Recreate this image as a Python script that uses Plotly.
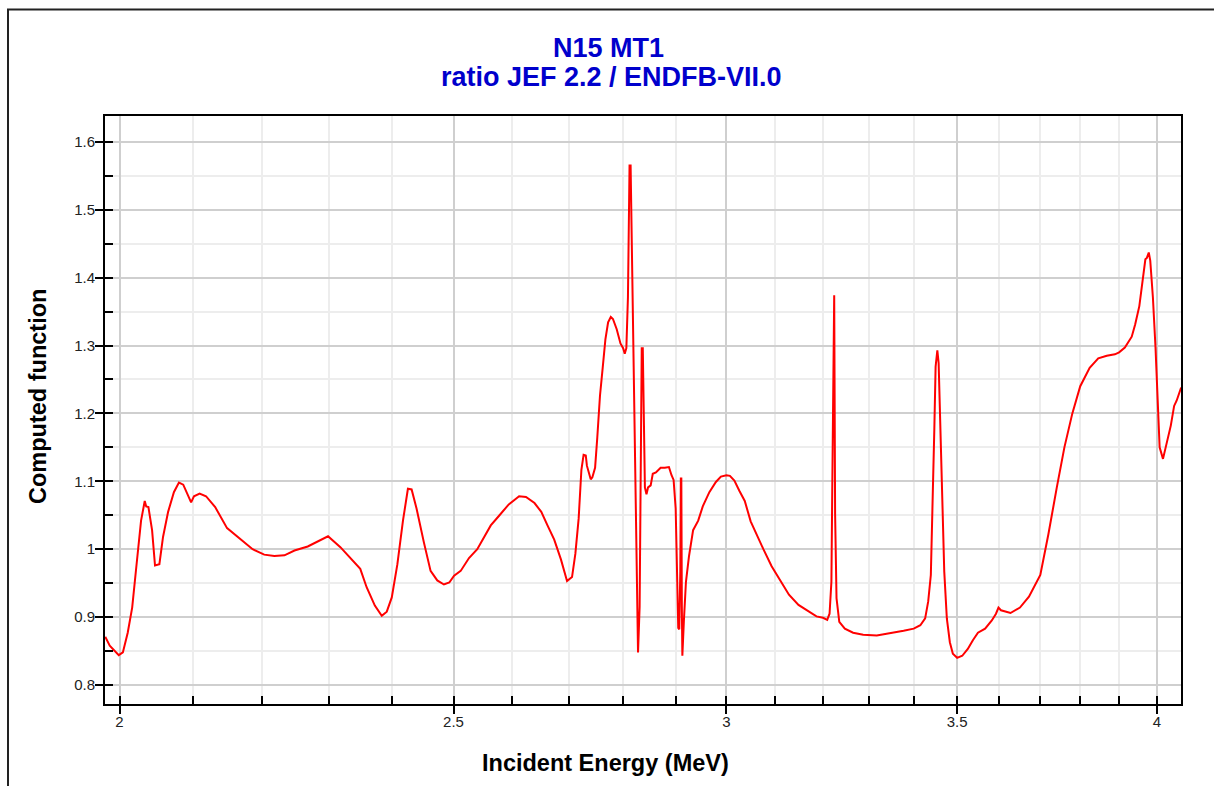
import plotly.graph_objects as go

# ---- data (incident energy in MeV, ratio JEF 2.2 / ENDFB-VII.0) ----
energy = [
    1.981, 1.987, 1.999, 2.0045, 2.011, 2.017, 2.0225, 2.029, 2.034, 2.036, 2.039, 2.044,
    2.048, 2.054, 2.059, 2.066, 2.074, 2.081, 2.087, 2.093, 2.098, 2.102, 2.110, 2.119,
    2.132, 2.149, 2.169, 2.186, 2.203, 2.218, 2.233, 2.248, 2.268, 2.283, 2.299, 2.318,
    2.349, 2.359, 2.372, 2.383, 2.391, 2.399, 2.408, 2.417, 2.425, 2.431, 2.439, 2.451,
    2.462, 2.473, 2.484, 2.493, 2.501, 2.512, 2.526, 2.540, 2.563,
    2.578, 2.594, 2.612, 2.624, 2.639, 2.651, 2.662, 2.674, 2.686, 2.697, 2.706, 2.712,
    2.718, 2.723, 2.727, 2.731, 2.733, 2.740, 2.743, 2.748, 2.752, 2.757, 2.762, 2.767,
    2.772, 2.777, 2.781, 2.788, 2.795, 2.800, 2.803, 2.806, 2.809, 2.811, 2.812, 2.814,
    2.828, 2.831, 2.833, 2.835, 2.837, 2.839, 2.841, 2.844, 2.847, 2.852, 2.856, 2.862,
    2.871, 2.879, 2.887, 2.892, 2.896, 2.900, 2.903, 2.905, 2.907, 2.909, 2.910, 2.911,
    2.912, 2.913, 2.916, 2.920, 2.926, 2.934, 2.944, 2.953, 2.966, 2.979, 2.989, 3.000,
    3.007, 3.016, 3.026, 3.037, 3.049, 3.061, 3.075, 3.092, 3.110,
    3.128, 3.148, 3.169, 3.186, 3.200, 3.209, 3.214, 3.218, 3.220, 3.222, 3.223, 3.224,
    3.226, 3.229, 3.235, 3.247, 3.265, 3.287, 3.317, 3.347, 3.377, 3.400, 3.415, 3.426,
    3.433, 3.439, 3.443, 3.447, 3.450, 3.454, 3.457, 3.461, 3.465, 3.470, 3.476, 3.483,
    3.490, 3.500, 3.512, 3.525, 3.537, 3.549, 3.566, 3.582, 3.592, 3.598, 3.604, 3.627,
    3.650, 3.672, 3.700, 3.720, 3.741, 3.760, 3.780, 3.800, 3.824, 3.846, 3.868, 3.889,
    3.900, 3.915, 3.933, 3.942, 3.953, 3.962, 3.969, 3.973, 3.978, 3.982, 3.989, 3.996,
    4.002, 4.007, 4.016, 4.028, 4.037, 4.046, 4.053, 4.065,
]
ratio = [
    0.871, 0.858, 0.844, 0.848, 0.877, 0.914, 0.973, 1.042, 1.071, 1.063, 1.062, 1.028,
    0.976, 0.978, 1.018, 1.055, 1.084, 1.098, 1.095, 1.082, 1.069, 1.078, 1.082, 1.078,
    1.062, 1.031, 1.014, 1.000, 0.992, 0.990, 0.991, 0.998, 1.004, 1.011, 1.019, 1.003,
    0.971, 0.944, 0.917, 0.902, 0.908, 0.929, 0.978, 1.042, 1.089, 1.088, 1.060, 1.010,
    0.968, 0.954, 0.948, 0.951, 0.961, 0.968, 0.987, 1.000, 1.035,
    1.050, 1.066, 1.078, 1.077, 1.068, 1.055, 1.035, 1.014, 0.985, 0.953, 0.959, 0.993,
    1.045, 1.117, 1.139, 1.138, 1.123, 1.103, 1.106, 1.120, 1.164, 1.226, 1.267, 1.309,
    1.334, 1.342, 1.339, 1.324, 1.303, 1.296, 1.288, 1.296, 1.371, 1.484, 1.565, 1.565,
    0.848, 0.915, 1.122, 1.296, 1.296, 1.174, 1.091, 1.081, 1.091, 1.094, 1.111, 1.113,
    1.120, 1.120, 1.121, 1.109, 1.102, 1.060, 0.967, 0.884, 0.882, 0.967, 1.104, 1.104,
    0.915, 0.843, 0.895, 0.952, 0.990, 1.028, 1.042, 1.063, 1.084, 1.099, 1.107, 1.109,
    1.108, 1.101, 1.086, 1.071, 1.041, 1.021, 1.000, 0.975, 0.954,
    0.933, 0.918, 0.908, 0.901, 0.899, 0.896, 0.905, 0.952, 1.101, 1.250, 1.374, 1.374,
    1.051, 0.928, 0.893, 0.883, 0.877, 0.874, 0.873, 0.876, 0.880, 0.883, 0.888, 0.898,
    0.923, 0.962, 1.051, 1.175, 1.269, 1.293, 1.274, 1.190, 1.076, 0.967, 0.898, 0.863,
    0.846, 0.840, 0.843, 0.853, 0.866, 0.877, 0.883, 0.895, 0.905, 0.914, 0.910, 0.906,
    0.914, 0.930, 0.962, 1.022, 1.091, 1.150, 1.200, 1.240, 1.267, 1.281, 1.285, 1.287,
    1.290, 1.297, 1.313, 1.331, 1.358, 1.395, 1.427, 1.429, 1.437, 1.425, 1.371, 1.297,
    1.224, 1.150, 1.133, 1.160, 1.182, 1.211, 1.219, 1.238,
]

x_major = [2, 2.5, 3, 3.5, 4]
x_major_text = ["2", "2.5", "3", "3.5", "4"]
x_minor = [2.1, 2.2, 2.3, 2.4, 2.6, 2.7, 2.8, 2.9, 3.1, 3.2, 3.3, 3.4, 3.6, 3.7, 3.8, 3.9]
y_major = [0.8, 0.9, 1.0, 1.1, 1.2, 1.3, 1.4, 1.5, 1.6]
y_major_text = ["0.8", "0.9", "1", "1.1", "1.2", "1.3", "1.4", "1.5", "1.6"]
y_minor = [0.85, 0.95, 1.05, 1.15, 1.25, 1.35, 1.45, 1.55]

title_lines = ["N15 MT1", "ratio JEF 2.2 / ENDFB-VII.0"]
x_title = "Incident Energy (MeV)"
y_title = "Computed function"

x_range_log = [0.29682, 0.60902]
y_range = [0.772, 1.638]

FONT = "Liberation Sans, Arial, Helvetica, sans-serif"
W, H = 1214, 786
L, R, T, B = 105, 33, 116, 82
PW, PH = W - L - R, H - T - B


def px_x(px):
    return (px - L) / PW


def px_y(py):
    return (H - B - py) / PH


fig = go.Figure()
fig.add_trace(go.Scatter(
    x=energy, y=ratio, mode="lines",
    line=dict(color="#ff0000", width=2),
    showlegend=False, hoverinfo="x+y",
))
# invisible helper trace so the overlay axes (inner half of major ticks) are drawn
fig.add_trace(go.Scatter(
    x=[3], y=[1], xaxis="x2", yaxis="y2", mode="markers",
    marker=dict(opacity=0), showlegend=False, hoverinfo="skip",
))

axis_common = dict(
    showline=True, linecolor="black", linewidth=2, mirror=True,
    ticks="outside", ticklen=8, tickwidth=2, tickcolor="black",
    showgrid=True, gridcolor="#cfcfcf", gridwidth=2,
    zeroline=False,
    tickfont=dict(family=FONT, size=15, color="#222222"),
)

fig.update_layout(
    width=W, height=H,
    margin=dict(l=L, r=R, t=T, b=B),
    paper_bgcolor="white", plot_bgcolor="white",
    font=dict(family=FONT),
    xaxis=dict(
        type="log", range=x_range_log,
        tickmode="array", tickvals=x_major, ticktext=x_major_text,
        ticklabelstandoff=-5,
        minor=dict(tickmode="array", tickvals=x_minor, ticks="inside", ticklen=8,
                   tickwidth=2, tickcolor="black", showgrid=True,
                   gridcolor="#ededed", gridwidth=2),
        **axis_common,
    ),
    yaxis=dict(
        range=y_range,
        tickmode="array", tickvals=y_major, ticktext=y_major_text,
        ticklabelstandoff=-3,
        minor=dict(tickmode="array", tickvals=y_minor, ticks="inside", ticklen=8,
                   tickwidth=2, tickcolor="black", showgrid=True,
                   gridcolor="#ededed", gridwidth=2),
        **axis_common,
    ),
    xaxis2=dict(
        type="log", range=x_range_log, overlaying="x", side="bottom", anchor="y2",
        tickmode="array", tickvals=x_major, ticks="inside", ticklen=8, tickwidth=2,
        tickcolor="black", showticklabels=False, showgrid=False, showline=False,
        zeroline=False,
    ),
    yaxis2=dict(
        range=y_range, overlaying="y", side="left", anchor="x2",
        tickmode="array", tickvals=y_major, ticks="inside", ticklen=8, tickwidth=2,
        tickcolor="black", showticklabels=False, showgrid=False, showline=False,
        zeroline=False,
    ),
    annotations=[
        dict(text="<b>%s</b>" % title_lines[0], xref="paper", yref="paper",
             x=px_x(608), y=px_y(48), xanchor="center", yanchor="middle",
             showarrow=False, font=dict(family=FONT, size=27, color="#0000cc")),
        dict(text="<b>%s</b>" % title_lines[1], xref="paper", yref="paper",
             x=px_x(611), y=px_y(77), xanchor="center", yanchor="middle",
             showarrow=False, font=dict(family=FONT, size=27, color="#0000cc")),
        dict(text="<b>%s</b>" % x_title, xref="paper", yref="paper",
             x=px_x(605), y=px_y(763), xanchor="center", yanchor="middle",
             showarrow=False, font=dict(family=FONT, size=23.5, color="black")),
        dict(text="<b>%s</b>" % y_title, xref="paper", yref="paper",
             x=px_x(38), y=px_y(397), xanchor="center", yanchor="middle",
             textangle=-90, showarrow=False, font=dict(family=FONT, size=23.5, color="black")),
    ],
    shapes=[
        dict(type="rect", xref="paper", yref="paper",
             x0=px_x(8), x1=px_x(1230), y0=px_y(800), y1=px_y(9.5),
             line=dict(color="#222222", width=2), fillcolor="rgba(0,0,0,0)", layer="above"),
    ],
)

fig.write_html("out.html", config={"displayModeBar": False},
               post_script="document.body.style.margin='0';")
